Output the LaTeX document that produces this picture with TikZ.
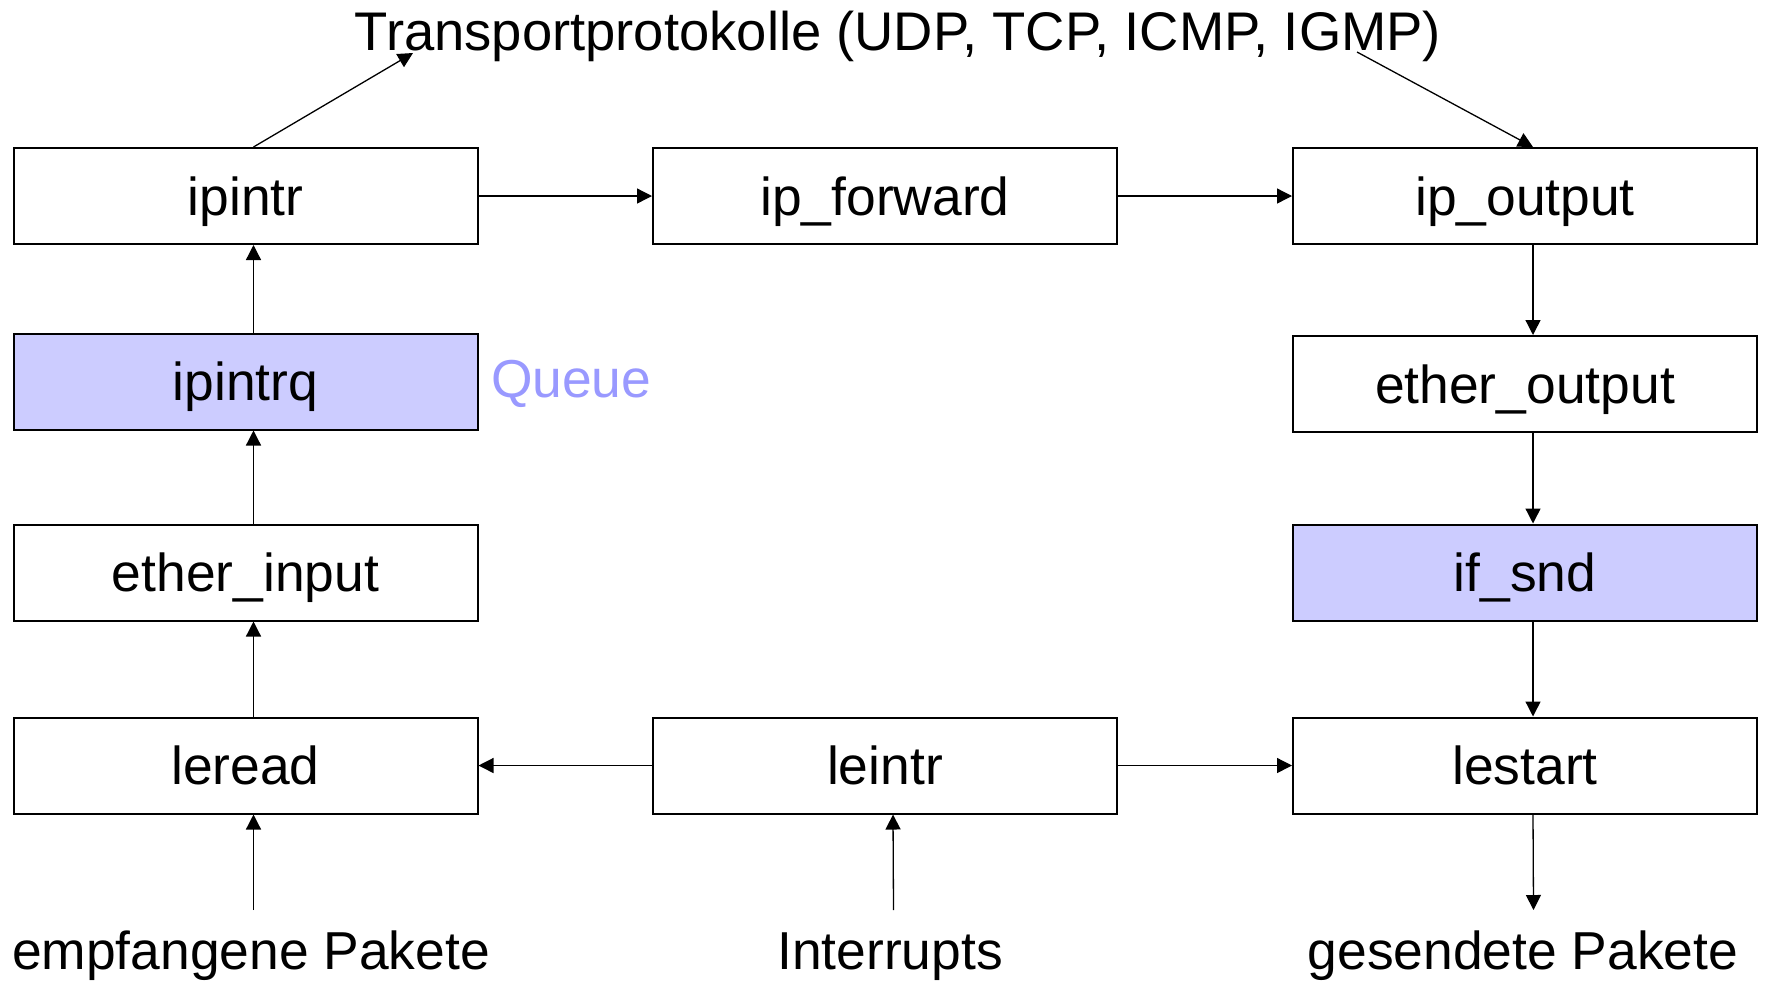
\documentclass[tikz,border=0pt]{standalone}
\usepackage{fontspec}
\setmainfont{Liberation Sans}
\usetikzlibrary{arrows.meta}
\definecolor{queuefill}{RGB}{204,204,255}
\definecolor{queuetext}{RGB}{153,153,255}
\begin{document}
\begin{tikzpicture}[x=0.5pt,y=-0.5pt,
  lbl/.style={font=\fontsize{26.7}{32}\selectfont},
  proc/.style={lbl,draw,line width=1pt,minimum width=232pt,minimum height=48pt,
    text height=19.1pt,text depth=0pt,inner sep=0pt},
  queue/.style={proc,fill=queuefill},
  arr/.style={line width=0.65pt,-{Triangle[length=7.5pt,width=7.5pt]}}]
\useasboundingbox (0,0) rectangle (1766,982);

% left column: receive path
\node[proc]  (ipintr)  at (245.5,196) {ipintr};
\node[queue] (ipintrq) at (245.5,381.5) {ipintrq};
\node[proc]  (einput)  at (245.5,572.5) {ether\_input};
\node[proc]  (leread)  at (245.5,765.5) {leread};

% middle column
\node[proc] (ipfwd)  at (885,196) {ip\_forward};
\node[proc] (leintr) at (885,765.5) {leintr};

% right column: send path
\node[proc]  (ipout)   at (1525,196) {ip\_output};
\node[proc]  (eoutput) at (1525,384) {ether\_output};
\node[queue] (ifsnd)   at (1525,572.5) {if\_snd};
\node[proc]  (lestart) at (1525,765.5) {lestart};

% free labels
\node[font=\fontsize{27.2}{32}\selectfont,anchor=base] (transport) at (898,50) {Transportprotokolle (UDP, TCP, ICMP, IGMP)};
\node[lbl,anchor=base west,text=queuetext] (queuelbl) at (484,397) {Queue};
\node[lbl,anchor=base] (recv) at (251,969) {empfangene Pakete};
\node[lbl,anchor=base] (intr) at (890,969) {Interrupts};
\node[lbl,anchor=base] (sent) at (1523,969) {gesendete Pakete};

% loose connector ends
\coordinate (toTransport) at (413,53);
\coordinate (fromTransport) at (1357,52);
\coordinate (recvTop) at (253.5,910);
\coordinate (intrTop) at (893.5,910);
\coordinate (sentTop) at (1533.5,910);

% receive path
\draw[arr] (recvTop) -- ([xshift=4pt]leread.south);
\draw[arr] ([xshift=4pt]leread.north) -- ([xshift=4pt]einput.south);
\draw[arr] ([xshift=4pt]einput.north) -- ([xshift=4pt]ipintrq.south);
\draw[arr] ([xshift=4pt]ipintrq.north) -- ([xshift=4pt]ipintr.south);
\draw[arr] ([xshift=4pt]ipintr.north) -- (toTransport);

% forwarding
\draw[arr] (ipintr.east) -- (ipfwd.west);
\draw[arr] (ipfwd.east) -- (ipout.west);

% send path
\draw[arr] (fromTransport) -- ([xshift=4pt]ipout.north);
\draw[arr] ([xshift=4pt]ipout.south) -- ([xshift=4pt]eoutput.north);
\draw[arr] ([xshift=4pt]eoutput.south) -- ([xshift=4pt]ifsnd.north);
\draw[arr] ([xshift=4pt]ifsnd.south) -- ([xshift=4pt]lestart.north);
\draw[arr] ([xshift=4pt]lestart.south) -- (sentTop);

% interrupt dispatch
\draw[arr] (intrTop) -- ([xshift=4pt]leintr.south);
\draw[arr] (leintr.west) -- (leread.east);
\draw[arr] (leintr.east) -- (lestart.west);
\end{tikzpicture}
\end{document}
